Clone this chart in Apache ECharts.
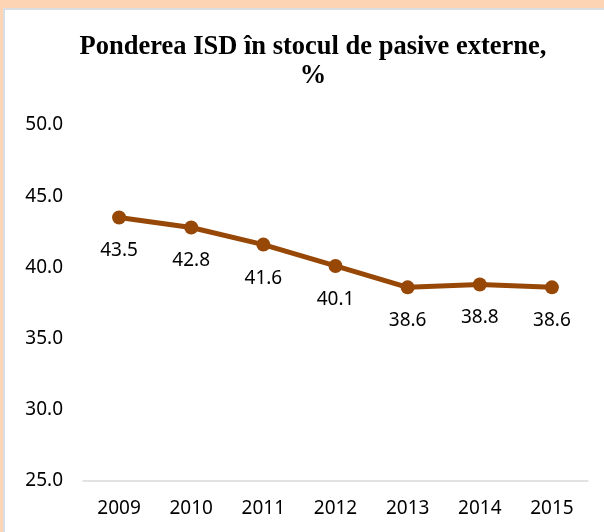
<!DOCTYPE html>
<html>
<head>
<meta charset="utf-8">
<script src="https://cdn.jsdelivr.net/npm/echarts@6/dist/echarts.min.js"></script>
<style>
  html, body { margin: 0; padding: 0; }
  body { width: 604px; height: 532px; background: #fdd5b4; position: relative; overflow: hidden; }
  #main {
    position: absolute; left: 3px; top: 8px; width: 601px; height: 524px;
    background: #fff; border-left: 2px solid #d9dee4; border-top: 2px solid #d9dee4;
    box-sizing: border-box;
  }
</style>
</head>
<body>
<div id="main"></div>
<script>
const years = ['2009', '2010', '2011', '2012', '2013', '2014', '2015']
const shareFDI = [43.5, 42.8, 41.6, 40.1, 38.6, 38.8, 38.6]
const yMin = 25
const yMax = 50
const yStep = 5

const chart = echarts.init(document.getElementById('main'))

const option = {
  animation: false,
  title: {
    text: 'Ponderea ISD în stocul de pasive externe,\n%',
    // centre of the title sits a bit right of the canvas middle
    left: 303,
    textAlign: 'center',
    top: 18,
    textStyle: {
      fontFamily: 'Liberation Serif',
      fontWeight: 'bold',
      fontSize: 26.5,
      lineHeight: 29,
      color: '#000'
    }
  },
  grid: {
    left: 78,
    right: 16,
    top: 115,
    bottom: 51
  },
  xAxis: {
    type: 'category',
    data: years,
    axisLine: { lineStyle: { color: '#d9d9d9', width: 1.5 } },
    axisTick: { show: false },
    axisLabel: {
      margin: 18,
      fontFamily: 'Noto Sans',
      fontSize: 19,
      color: '#000'
    }
  },
  yAxis: {
    type: 'value',
    min: yMin,
    max: yMax,
    interval: yStep,
    axisLine: { show: false },
    axisTick: { show: false },
    splitLine: { show: false },
    axisLabel: {
      margin: 20,
      fontFamily: 'Noto Sans',
      fontSize: 19,
      color: '#000',
      formatter: (v) => v.toFixed(1)
    }
  },
  series: [
    {
      type: 'line',
      data: shareFDI,
      symbol: 'circle',
      symbolSize: 14,
      lineStyle: { color: '#974806', width: 5 },
      itemStyle: { color: '#974806' },
      label: {
        show: true,
        position: 'bottom',
        distance: 17,
        fontFamily: 'Noto Sans',
        fontSize: 19,
        color: '#000',
        formatter: (p) => p.value.toFixed(1)
      }
    }
  ]
}

chart.setOption(option)
</script>
</body>
</html>
